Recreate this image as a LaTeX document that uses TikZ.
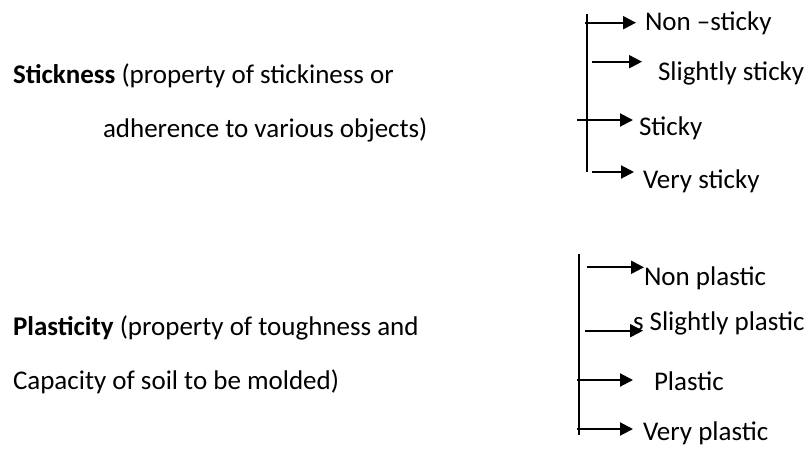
\documentclass[tikz,border=0pt]{standalone}
\usepackage{fontspec}
\setmainfont{Carlito}
\usetikzlibrary{arrows.meta}
\tikzset{
  lbl/.style={anchor=base west, inner sep=0pt, outer sep=0pt, font=\fontsize{27}{32}\selectfont},
  trunk/.style={line width=2pt},
  branch/.style={line width=2pt, -{Triangle[length=13pt,width=13pt]}}
}
\begin{document}
\begin{tikzpicture}[x=1pt,y=-1pt]
\useasboundingbox (0,0) rectangle (810,450);
% left labels
\node[lbl] (s1) at (13,83) {\textbf{Stickness} (property of stickiness or};
\node[lbl] (s2) at (103,137) {adherence to various objects)};
\node[lbl] (p1) at (13,335) {\textbf{Plasticity} (property of toughness and};
\node[lbl] (p2) at (13,389) {Capacity of soil to be molded)};
% right labels, top group
\node[lbl] (t1) at (645,30) {Non –sticky};
\node[lbl] (t2) at (658,80) {Slightly sticky};
\node[lbl] (t3) at (639,135) {Sticky};
\node[lbl] (t4) at (643,188) {Very sticky};
% right labels, bottom group
\node[lbl] (b1) at (644,285) {Non plastic};
\node[lbl] (b2) at (633,330) {s Slightly plastic};
\node[lbl] (b3) at (654,390) {Plastic};
\node[lbl] (b4) at (643,440) {Very plastic};
% top trunk and branches
\coordinate (tt) at (587,14);
\coordinate (tb) at (587,172);
\draw[trunk] (tt) -- (tb);
\coordinate (ta1) at (585,22.7); \coordinate (te1) at (636,22.7);
\coordinate (ta2) at (592,61.7); \coordinate (te2) at (642,61.7);
\coordinate (ta3) at (577,120);  \coordinate (te3) at (633,120);
\coordinate (ta4) at (592,172);  \coordinate (te4) at (634,172);
\draw[branch] (ta1) -- (te1);
\draw[branch] (ta2) -- (te2);
\draw[branch] (ta3) -- (te3);
\draw[branch] (ta4) -- (te4);
% bottom trunk and branches
\coordinate (bt) at (579,254);
\coordinate (bb) at (579,435);
\draw[trunk] (bt) -- (bb);
\coordinate (ba1) at (587,267.3); \coordinate (be1) at (644,267.3);
\coordinate (ba2) at (585,330.7); \coordinate (be2) at (643,330.7);
\coordinate (ba3) at (577,380);   \coordinate (be3) at (633,380);
\coordinate (ba4) at (577,429);   \coordinate (be4) at (633,429);
\draw[branch] (ba1) -- (be1);
\draw[branch] (ba2) -- (be2);
\draw[branch] (ba3) -- (be3);
\draw[branch] (ba4) -- (be4);
\end{tikzpicture}
\end{document}
